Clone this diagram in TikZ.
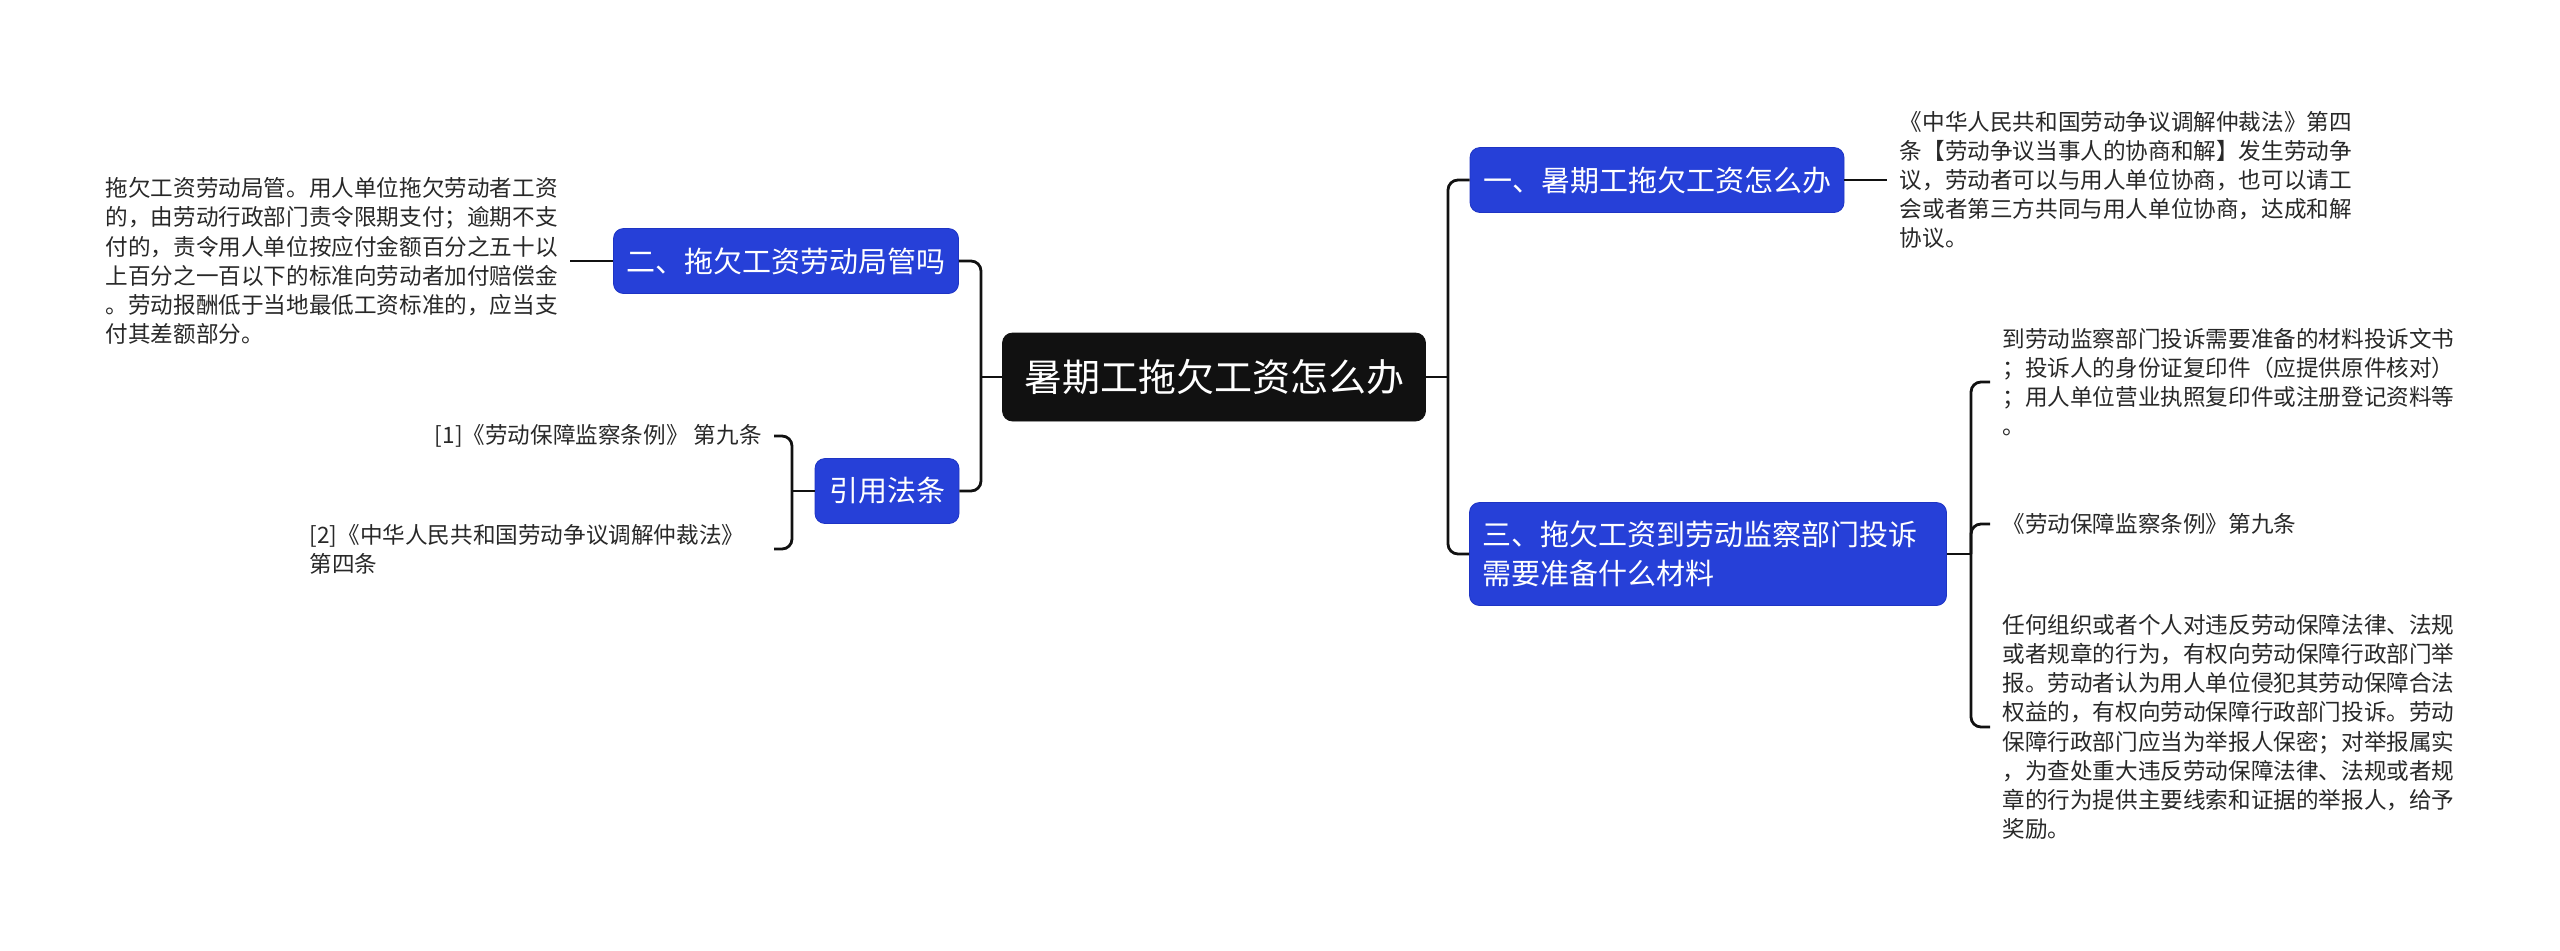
\documentclass[tikz,border=0pt]{standalone}
\usepackage{fontspec}
\usepackage{tikz}
\usetikzlibrary{positioning}
\newfontfamily\cjk{Noto Sans CJK SC}
\definecolor{rootblack}{RGB}{17,17,17}
\definecolor{branchblue}{RGB}{38,64,216}
\definecolor{branchedge}{RGB}{30,52,196}
\definecolor{leafgray}{RGB}{40,40,40}

\begin{document}
\begin{tikzpicture}[
  x=0.5pt, y=-0.5pt,
  topic/.style={draw=rootblack, fill=rootblack, rounded corners=5pt,
                text=white, font=\cjk\fontsize{19pt}{23pt}\selectfont,
                minimum width=211.5pt, minimum height=44pt, inner sep=0pt},
  branch/.style={draw=branchedge, fill=branchblue, rounded corners=5pt,
                 text=white, font=\cjk\fontsize{14.5pt}{19.5pt}\selectfont,
                 minimum height=32.5pt, inner sep=0pt, align=left},
  leaf/.style={text=leafgray, font=\cjk\fontsize{11.3pt}{14.6pt}\selectfont,
               inner xsep=6pt, inner ysep=0pt, align=left},
  link/.style={draw=rootblack, line width=1.4pt, rounded corners=5pt}
]
\useasboundingbox (0,0) rectangle (2560,950);

\node[topic] (root) at (1214,377) {暑期工拖欠工资怎么办};
\node[branch, minimum width=187pt]   (b1) at (1657,180) {一、暑期工拖欠工资怎么办};
\node[branch, text width=225.5pt, inner xsep=6.5pt, minimum height=51.5pt]
      (b3) at (1708,554) {三、拖欠工资到劳动监察部门投诉\\需要准备什么材料};
\node[branch, minimum width=172.5pt] (b2) at (786,261)  {二、拖欠工资劳动局管吗};
\node[branch, minimum width=72pt]    (b4) at (887,491)  {引用法条};

\node[leaf, right=21.5pt of b1] (l1)
  {《中华人民共和国劳动争议调解仲裁法》第四\\条【劳动争议当事人的协商和解】发生劳动争\\议，劳动者可以与用人单位协商，也可以请工\\会或者第三方共同与用人单位协商，达成和解\\协议。};
\node[leaf, left=21.5pt of b2] (l2)
  {拖欠工资劳动局管。用人单位拖欠劳动者工资\\的，由劳动行政部门责令限期支付；逾期不支\\付的，责令用人单位按应付金额百分之五十以\\上百分之一百以下的标准向劳动者加付赔偿金\\。劳动报酬低于当地最低工资标准的，应当支\\付其差额部分。};
\node[leaf, anchor=west] (l31) at (1990,382)
  {到劳动监察部门投诉需要准备的材料投诉文书\\；投诉人的身份证复印件（应提供原件核对）\\；用人单位营业执照复印件或注册登记资料等\\。};
\node[leaf, anchor=west] (l32) at (1990,524) {《劳动保障监察条例》第九条};
\node[leaf, anchor=west] (l33) at (1990,727)
  {任何组织或者个人对违反劳动保障法律、法规\\或者规章的行为，有权向劳动保障行政部门举\\报。劳动者认为用人单位侵犯其劳动保障合法\\权益的，有权向劳动保障行政部门投诉。劳动\\保障行政部门应当为举报人保密；对举报属实\\，为查处重大违反劳动保障法律、法规或者规\\章的行为提供主要线索和证据的举报人，给予\\奖励。};
\node[leaf, anchor=east, align=right] (l41) at (774,436) {[1]《劳动保障监察条例》 第九条};
\node[leaf, anchor=east, text width=226pt] (l42) at (774,549)
  {[2]《中华人民共和国劳动争议调解仲裁法》\\第四条};

% joints of the brackets
\coordinate (jr) at (1448,377);
\coordinate (jl) at (981,377);
\coordinate (j3) at (1971,554);
\coordinate (j4) at (792,491);

\draw[link] (root.east) -- (jr);
\draw[link] (b1.west) -| (jr) |- (b3.west);
\draw[link] (root.west) -- (jl);
\draw[link] (b2.east) -| (jl) |- (b4.east);
\draw[link] (b1.east) -- (l1.west);
\draw[link] (b2.west) -- (l2.east);
\draw[link] (b3.east) -- (j3);
\draw[link] (l31.west) -| (j3) |- (l33.west);
\draw[link] (j3) |- (l32.west);
\draw[link] (b4.west) -- (j4);
\draw[link] (l41.east) -| (j4) |- (l42.east);
\end{tikzpicture}
\end{document}
